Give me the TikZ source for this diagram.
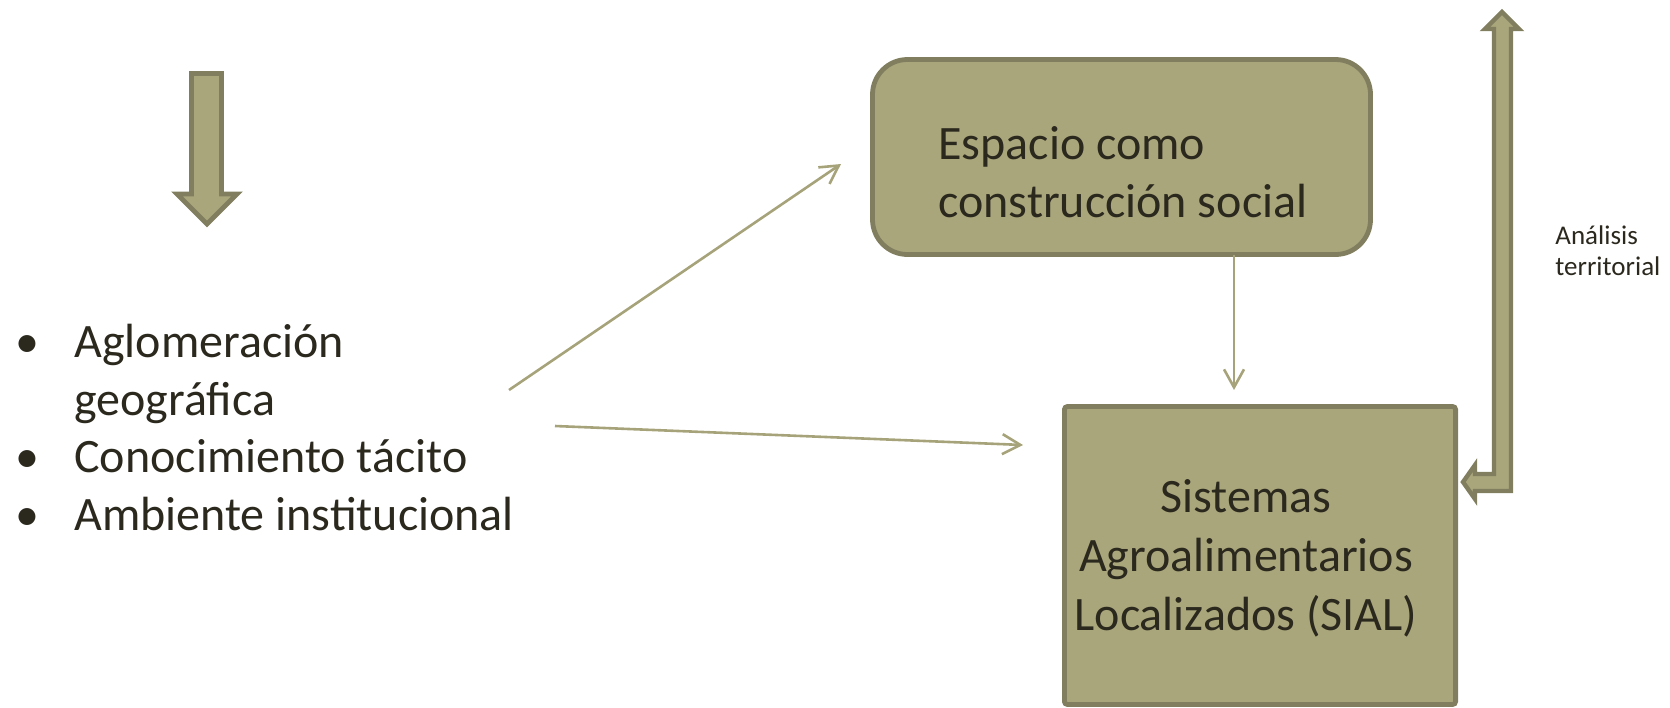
\documentclass[tikz,border=0pt]{standalone}
\usepackage{fontspec}
\setmainfont{Carlito}
\usetikzlibrary{arrows.meta}
\definecolor{olivefill}{RGB}{169,166,124}
\definecolor{olivedark}{RGB}{128,126,94}
\definecolor{olivelink}{RGB}{166,163,122}
\definecolor{inktext}{RGB}{43,40,30}
\tikzset{
  box/.style={draw=olivedark, fill=olivefill, line width=2.4pt, inner sep=0pt, outer sep=0pt},
  bigtext/.style={text=inktext, inner sep=0pt, font=\fontsize{24}{28.7}\selectfont},
  link/.style={draw=olivelink, line width=1.3pt, -{Straight Barb[length=9pt,width=10pt]}},
  fatarrow/.style={draw=olivedark, fill=olivefill, line width=2.4pt, line join=miter},
}
\newcommand{\bulitem}{\makebox[29.5pt][l]{•}}
\newcommand{\bulgap}{\makebox[29.5pt]{}}

\begin{document}
\begin{tikzpicture}[x=0.5pt,y=0.5pt,yscale=-1,xscale=1]
\useasboundingbox (0,0) rectangle (1670,707);

%Shape: Down Arrow
\draw [fatarrow] (191.5,73.5) -- (221.5,73.5) -- (221.5,194) -- (237,194) -- (207,224) -- (177,194) -- (191.5,194) -- cycle ;

%Shape: Rounded Rectangle
\node [box, rounded corners=17.5pt, minimum width=249pt, minimum height=97.5pt] (espacio) at (1121.5,157) {};
%Shape: Rectangle
\node [box, rounded corners=1.5pt, minimum width=195.6pt, minimum height=149pt] (sial) at (1260,555.5) {};

%Shape: Bent Arrow
\draw [fatarrow, line width=2.2pt] (1502,12) -- (1519,29) -- (1511,29) -- (1511,491) -- (1475,491) -- (1475,499) -- (1463,482) -- (1475,465) -- (1475,474) -- (1494,474) -- (1494,29) -- (1485,29) -- cycle ;

% Text Node
\node [bigtext, anchor=base west, align=left] (espaciotxt) at (938,217) {Espacio como\\construcción social};
% Text Node
\node [bigtext, anchor=base, align=center, font=\fontsize{24}{29.3}\selectfont] (sialtxt) at (1246,630) {Sistemas\\Agroalimentarios\\Localizados (SIAL)};
% Text Node
\node [bigtext, anchor=base west, align=left] (lista) at (15,530) {\bulitem Aglomeración\\\bulgap geográfica\\\bulitem Conocimiento tácito\\\bulitem Ambiente institucional};
% Text Node
\node [text=inktext, inner sep=0pt, anchor=base west, align=left, font=\fontsize{13.5}{15.5}\selectfont] (analisis) at (1555,275) {Análisis\\territorial};

%Connectors
\coordinate (a1) at (509,390);
\coordinate (b1) at (841,164);
\coordinate (a2) at (555,426);
\coordinate (b2) at (1023,445);
\coordinate (b3) at (1234,390);
\draw [link] (a1) -- (b1);
\draw [link] (a2) -- (b2);
\draw [link] (espacio.south -| b3) -- (b3);

\end{tikzpicture}
\end{document}
